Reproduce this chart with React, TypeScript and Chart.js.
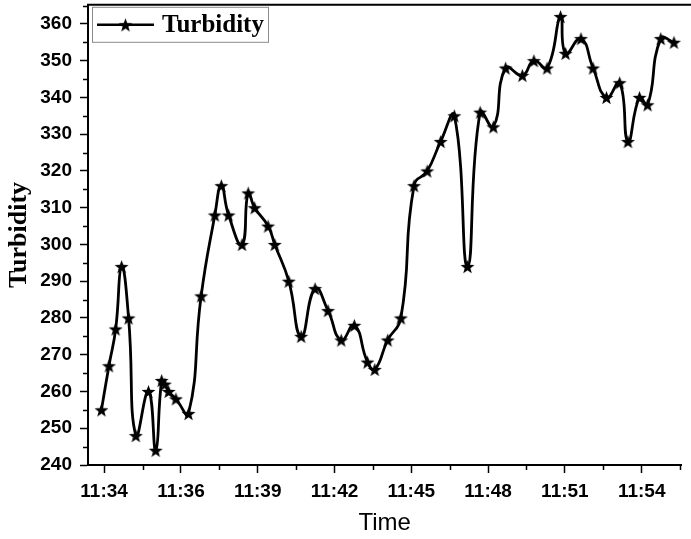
import { useEffect, useRef } from 'react';
import { Chart, registerables } from 'chart.js';

Chart.register(...registerables);

// minutes after 11:00
const timeMinutes = [
  33.90, 34.18, 34.43, 34.65, 34.91, 35.18, 35.65, 35.92, 36.14, 36.26,
  36.40, 36.67, 37.14, 37.61, 38.12, 38.36, 38.63, 39.13, 39.36, 39.60,
  40.10, 40.35, 40.87, 41.33, 41.85, 42.33, 42.82, 43.31, 43.80, 44.07,
  44.55, 45.04, 45.53, 46.02, 46.52, 47.03, 47.52, 47.99, 48.48, 48.94,
  49.56, 49.99, 50.48, 50.98, 51.17, 51.74, 52.19, 52.69, 53.18, 53.49,
  53.92, 54.22, 54.71, 55.20,
];
const turbidity = [
  255, 267, 277, 294, 280, 248, 260, 244, 263, 262,
  260, 258, 254, 286, 308, 316, 308, 300, 314, 310,
  305, 300, 290, 275, 288, 282, 274, 278, 268, 266,
  274, 280, 316, 320, 328, 335, 294, 336, 332, 348,
  346, 350, 348, 362, 352, 356, 348, 340, 344, 328,
  340, 338, 356, 355,
];
const xTickLabels = ['11:34', '11:36', '11:39', '11:42', '11:45', '11:48', '11:51', '11:54'];
const yTickValues = [240, 250, 260, 270, 280, 290, 300, 310, 320, 330, 340, 350, 360];

const seriesLabel = 'Turbidity';
const xTitle = 'Time';
const yTitle = 'Turbidity';

const W = 691;
const H = 539;
const CH = H + 20; // canvas drawn slightly taller, shifted up to align the frame
const PLOT_TOP = 5;
const PLOT_BOTTOM = 465;
const X_TITLE_CENTER = 523;
const X_TITLE_SIZE = 24;

export default function App() {
  const ref = useRef<HTMLCanvasElement>(null);

  useEffect(() => {
    const canvas = ref.current;
    if (!canvas) return;
    const S = 15;
    const star = document.createElement('canvas');
    star.width = S;
    star.height = S;
    const c = star.getContext('2d')!;
    c.beginPath();
    for (let i = 0; i < 10; i++) {
      const r = i % 2 === 0 ? 7.3 : 3.0;
      const a = -Math.PI / 2 + (i * Math.PI) / 5;
      const px = S / 2 + r * Math.cos(a);
      const py = S / 2 + 0.8 + r * Math.sin(a);
      if (i === 0) c.moveTo(px, py);
      else c.lineTo(px, py);
    }
    c.closePath();
    c.fillStyle = '#000';
    c.fill();

    const xStart = 34;
    const xStep = 20 / 7;
    const xMajor = xTickLabels.map((_, i) => xStart + i * xStep);
    const xMinor = xMajor.map((v) => v + xStep / 2);
    const yMinor = yTickValues.map((v) => v + 5);

    let shift = 0;
    const halfLine = (X_TITLE_SIZE * 1.2) / 2;

    const extras = {
      id: 'extras',
      afterDraw(chart: any) {
        const { ctx, chartArea } = chart;
        const { left, top, bottom } = chartArea;
        const xs = chart.scales.x;
        const ys = chart.scales.y;
        ctx.save();
        ctx.strokeStyle = '#000';
        ctx.lineWidth = 2;
        ctx.beginPath();
        ctx.moveTo(left - 1, top);
        ctx.lineTo(chart.width, top);
        ctx.stroke();

        ctx.lineWidth = 1.5;
        ctx.beginPath();
        xMinor.forEach((v) => {
          if (v <= xs.max) {
            const px = Math.round(xs.getPixelForValue(v)) + 0.5;
            ctx.moveTo(px, bottom);
            ctx.lineTo(px, bottom + 5);
          }
        });
        yMinor.forEach((v) => {
          if (v <= ys.max) {
            const py = Math.round(ys.getPixelForValue(v)) + 0.5;
            ctx.moveTo(left, py);
            ctx.lineTo(left - 5, py);
          }
        });
        ctx.stroke();

        // legend
        const bx = left + 4.5;
        const by = top + 2.5;
        ctx.fillStyle = '#fff';
        ctx.fillRect(bx, by, 176, 35);
        ctx.strokeStyle = '#8a8a8a';
        ctx.lineWidth = 1;
        ctx.strokeRect(bx, by, 176, 35);
        ctx.strokeStyle = '#000';
        ctx.lineWidth = 2.5;
        ctx.beginPath();
        ctx.moveTo(left + 9, top + 20);
        ctx.lineTo(left + 66, top + 20);
        ctx.stroke();
        ctx.drawImage(star, left + 37.5 - S / 2, top + 20 - S / 2);
        ctx.fillStyle = '#000';
        ctx.font = 'bold 25px "Liberation Serif"';
        ctx.textBaseline = 'alphabetic';
        ctx.textAlign = 'left';
        ctx.fillText(seriesLabel, left + 74, top + 27);
        ctx.restore();
      },
    };

    const chart = new Chart(canvas, {
      type: 'line',
      data: {
        datasets: [
          {
            label: seriesLabel,
            data: timeMinutes.map((t, i) => ({ x: t, y: turbidity[i] })),
            borderColor: '#000',
            borderWidth: 2.8,
            tension: 0.5,
            pointStyle: star as any,
            pointRadius: 7,
            pointHoverRadius: 7,
            fill: false,
          },
        ],
      },
      options: {
        animation: false,
        responsive: false,
        events: [],
        layout: { padding: { top: PLOT_TOP, right: 1, left: 0, bottom: 0 } },
        plugins: { legend: { display: false }, tooltip: { enabled: false } },
        scales: {
          x: {
            type: 'linear',
            min: 33.4,
            max: 55.47,
            afterBuildTicks: (s: any) => {
              s.ticks = xMajor.map((v) => ({ value: v }));
            },
            afterFit: (s: any) => {
              s.height = CH - PLOT_BOTTOM - shift;
              s.paddingLeft = 0;
              s.paddingRight = 0;
            },
            ticks: {
              autoSkip: false,
              maxRotation: 0,
              padding: 7,
              color: '#000',
              font: { family: '"Liberation Sans", Arial, sans-serif', size: 19, weight: 'bold' },
              callback: (_v: any, i: number) => xTickLabels[i],
            },
            grid: { drawOnChartArea: false, tickLength: 8, tickColor: '#000', tickWidth: 1.5 },
            border: { color: '#000', width: 2 },
            title: {
              display: true,
              text: xTitle,
              color: '#000',
              font: { family: '"Liberation Sans", Arial, sans-serif', size: X_TITLE_SIZE, weight: 'normal' },
              padding: { top: 0, bottom: CH - X_TITLE_CENTER - halfLine },
            },
          },
          y: {
            type: 'linear',
            min: 240,
            max: 365.2,
            afterBuildTicks: (s: any) => {
              s.ticks = yTickValues.map((v) => ({ value: v }));
            },
            afterFit: (s: any) => {
              s.width = 88;
              s.paddingTop = 0;
              s.paddingBottom = 0;
            },
            ticks: {
              padding: 8,
              color: '#000',
              font: { family: '"Liberation Sans", Arial, sans-serif', size: 19, weight: 'bold' },
              callback: (v: any) => String(v),
            },
            grid: { drawOnChartArea: false, tickLength: 8, tickColor: '#000', tickWidth: 1.5 },
            border: { color: '#000', width: 2 },
            title: {
              display: true,
              text: yTitle,
              color: '#000',
              font: { family: '"Liberation Serif", "Times New Roman", serif', size: 26, weight: 'bold' },
              padding: { top: 3.5, bottom: 0 },
            },
          },
        },
      },
      plugins: [extras],
    });

    // align the plot frame on screen: shift the canvas up by the extra top inset
    shift = Math.max(0, Math.round(chart.chartArea.top - PLOT_TOP));
    if (shift > 0) {
      canvas.style.marginTop = `${-shift}px`;
      (chart.options.scales as any).x.title.padding = { top: 0, bottom: CH - shift - X_TITLE_CENTER - halfLine };
      chart.update();
    }

    return () => chart.destroy();
  }, []);

  return (
    <div style={{ position: 'fixed', left: 0, top: 0, width: W, height: H, background: '#fff', overflow: 'hidden' }}>
      <div style={{ width: W, height: CH }}>
        <canvas ref={ref} width={W} height={CH} style={{ display: 'block' }} />
      </div>
    </div>
  );
}
